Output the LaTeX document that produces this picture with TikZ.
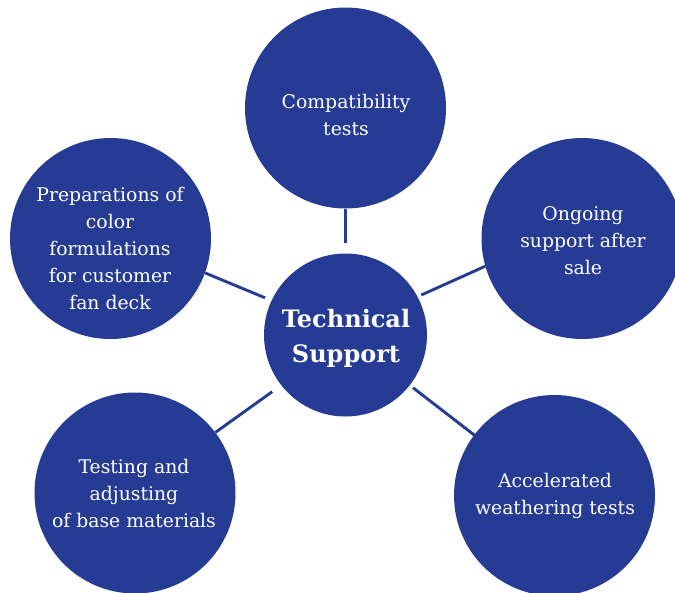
\documentclass[tikz,border=0pt]{standalone}
\usepackage{fontspec}
\setmainfont{DejaVu Serif}
\definecolor{cblue}{RGB}{38,59,148}
\begin{document}
\begin{tikzpicture}[x=1pt,y=-1pt,
  bub/.style={circle,fill=cblue,minimum size=201pt,inner sep=0pt},
  hub/.style={circle,fill=cblue,minimum size=163pt,inner sep=0pt},
  txt/.style={text=white,align=center,inner sep=0pt,font=\fontsize{18.8}{27}\selectfont},
  hubtxt/.style={text=white,align=center,inner sep=0pt,font=\fontsize{24}{35}\selectfont\bfseries},
  link/.style={draw=cblue,line width=2.9pt}]
\useasboundingbox (0,0) rectangle (675,592);
\clip (0,0) rectangle (675,592);
\node[hub] (c) at (345.5,335) {};
\node[bub] (t) at (345.5,108) {};
\node[bub] (l) at (110.5,238.5) {};
\node[bub] (r) at (582,238.5) {};
\node[bub] (bl) at (135,493) {};
\node[bub] (br) at (554.5,495.5) {};
\node[hubtxt] (ct) at (346,338) {Technical\\Support};
\node[txt] (tt) at (346,115) {Compatibility\\tests};
\node[txt] (lt) at (110,248.5) {Preparations of\\color\\formulations\\for customer\\fan deck};
\node[txt] (rt) at (583,241) {Ongoing\\support after\\sale};
\node[txt] (blt) at (134,493) {Testing and\\adjusting\\of base materials};
\node[txt] (brt) at (555,496) {Accelerated\\weathering tests};
\draw[link,shorten >=10pt] (t.south) -- (c.north);
\draw[link,shorten >=7pt] (l.-20) -- (c.155);
\draw[link,shorten <=4pt] (c.28) -- (r.196);
\draw[link,shorten >=11pt] (bl.37) -- (c.218);
\draw[link,shorten <=4pt,shorten >=-5pt] (c.-38) -- (br.143);
\end{tikzpicture}
\end{document}
